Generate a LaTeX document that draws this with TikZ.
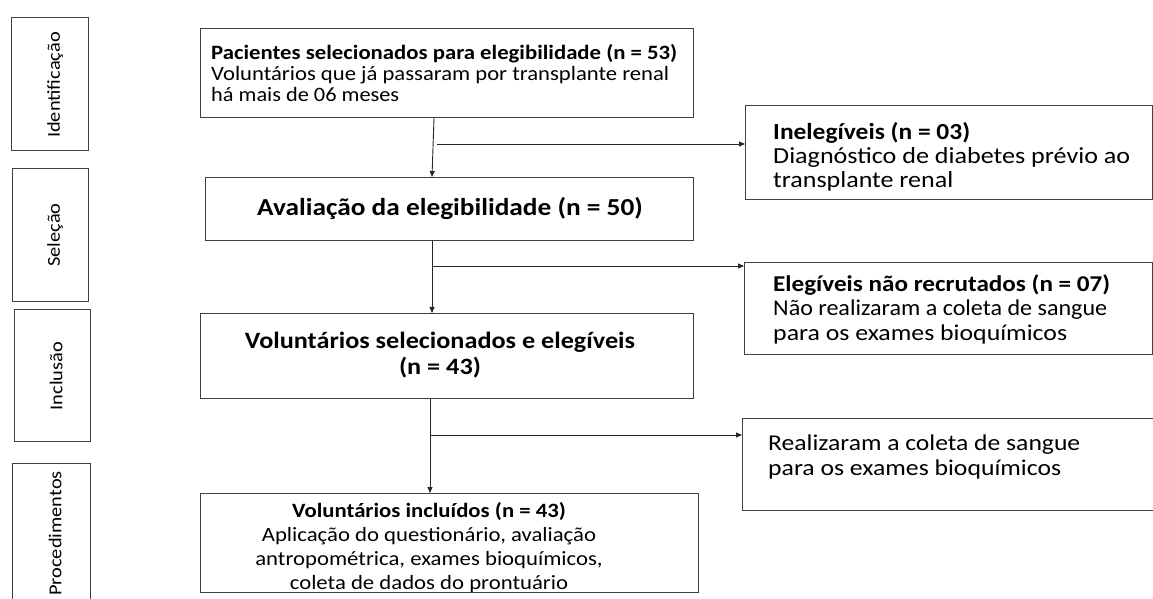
\documentclass[tikz,border=0pt]{standalone}
\usepackage{graphicx}
\usepackage{fontspec}
\setmainfont{Carlito}
\newfontfamily\wide{Carlito}[FakeStretch=1.12]
\usetikzlibrary{arrows.meta,calc}
\newcommand\fsz[2]{\wide\fontsize{#1bp}{#2bp}\selectfont}
\newcommand\lw[2]{\resizebox{#1bp}{\height}{#2}}
\begin{document}
\begin{tikzpicture}[x=1bp,y=-1bp]
\useasboundingbox (0,0) rectangle (1153,599);
\tikzset{
  box/.style={draw=black!75, line width=1bp, rectangle, anchor=north west, inner sep=0pt},
  arr/.style={draw=black!85, line width=0.9bp, -{Triangle[length=6bp,width=5bp]}},
  side/.style={rotate=90, font=\fsz{18.2}{22}, inner sep=0pt},
  txt/.style={inner sep=0pt, text=black},
}
% side labels
\node[box, minimum width=77bp, minimum height=133bp] (s1) at (11,17) {};
\node[box, minimum width=76bp, minimum height=133bp] (s2) at (12,168) {};
\node[box, minimum width=76bp, minimum height=132bp] (s3) at (14,309) {};
\node[box, minimum width=78bp, minimum height=150bp] (s4) at (12,463) {};
\node[side] (t1) at (55,85) {Identificação};
\node[side] (t2) at (55,235) {Seleção};
\node[side] (t3) at (56,376) {Inclusão};
\node[side, anchor=east] (t4) at (55,471) {Procedimentos};

% main boxes
\node[box, minimum width=493bp, minimum height=89bp] (b1) at (200,28) {};
\node[box, minimum width=488bp, minimum height=63bp] (b2) at (205,177) {};
\node[box, minimum width=493bp, minimum height=85bp] (b3) at (200,313) {};
\node[box, minimum width=498bp, minimum height=99bp] (b4) at (200,493) {};

\node[txt, anchor=west, align=left, font=\fsz{20.4}{21}] (tb1) at (211,73)
  {\lw{466}{\bfseries Pacientes selecionados para elegibilidade (n = 53)}\\
   \lw{458}{Voluntários que já passaram por transplante renal}\\
   \lw{188}{há mais de 06 meses}};
\node[txt, font=\fsz{24.4}{26}\bfseries] (tb2) at (450,209) {Avaliação da elegibilidade (n = 50)};
\node[txt, align=center, font=\fsz{23.4}{26}\bfseries] (tb3) at (440,355)
  {Voluntários selecionados e elegíveis\\(n = 43)};
\node[txt, align=center, font=\fsz{20.3}{24}] (tb4) at (429,548)
  {\textbf{Voluntários incluídos (n = 43)}\\
   Aplicação do questionário, avaliação\\
   antropométrica, exames bioquímicos,\\
   coleta de dados do prontuário};

% side boxes
\node[box, minimum width=407bp, minimum height=94bp] (r1) at (745,105) {};
\node[box, minimum width=408bp, minimum height=92bp] (r2) at (744,262) {};
\node[box, minimum width=411bp, minimum height=92bp] (r3) at (742,418) {};

\node[txt, anchor=west, align=left, font=\fsz{23}{24}] (tr1) at (773,157)
  {\lw{197}{\bfseries Inelegíveis (n = 03)}\\
   \lw{357}{Diagnóstico de diabetes prévio ao}\\
   \lw{180}{transplante renal}};
\node[txt, anchor=west, align=left, font=\fsz{22.6}{24.5}] (tr2) at (773,309)
  {\lw{337}{\bfseries Elegíveis não recrutados (n = 07)}\\
   \lw{334}{Não realizaram a coleta de sangue}\\
   \lw{294}{para os exames bioquímicos}};
\node[txt, anchor=west, align=left, font=\fsz{22.6}{25}] (tr3) at (768,457)
  {\lw{312}{Realizaram a coleta de sangue}\\
   \lw{293}{para os exames bioquímicos}};

% connectors
\draw[arr] ($(b1.south west)+(234,0)$) -- ($(b2.north west)+(227,0)$);
\coordinate (j1) at (437,144);
\draw[arr] (j1) -- (j1 -| r1.west);
\draw[arr] ($(b2.south west)+(227,0)$) -- ($(b3.north west)+(232,0)$);
\coordinate (j2) at (432,266);
\draw[arr] (j2) -- (j2 -| r2.west);
\draw[arr] ($(b3.south west)+(230,0)$) -- ($(b4.north west)+(230,0)$);
\coordinate (j3) at (430,435);
\draw[arr] (j3) -- (j3 -| r3.west);
\end{tikzpicture}
\end{document}
